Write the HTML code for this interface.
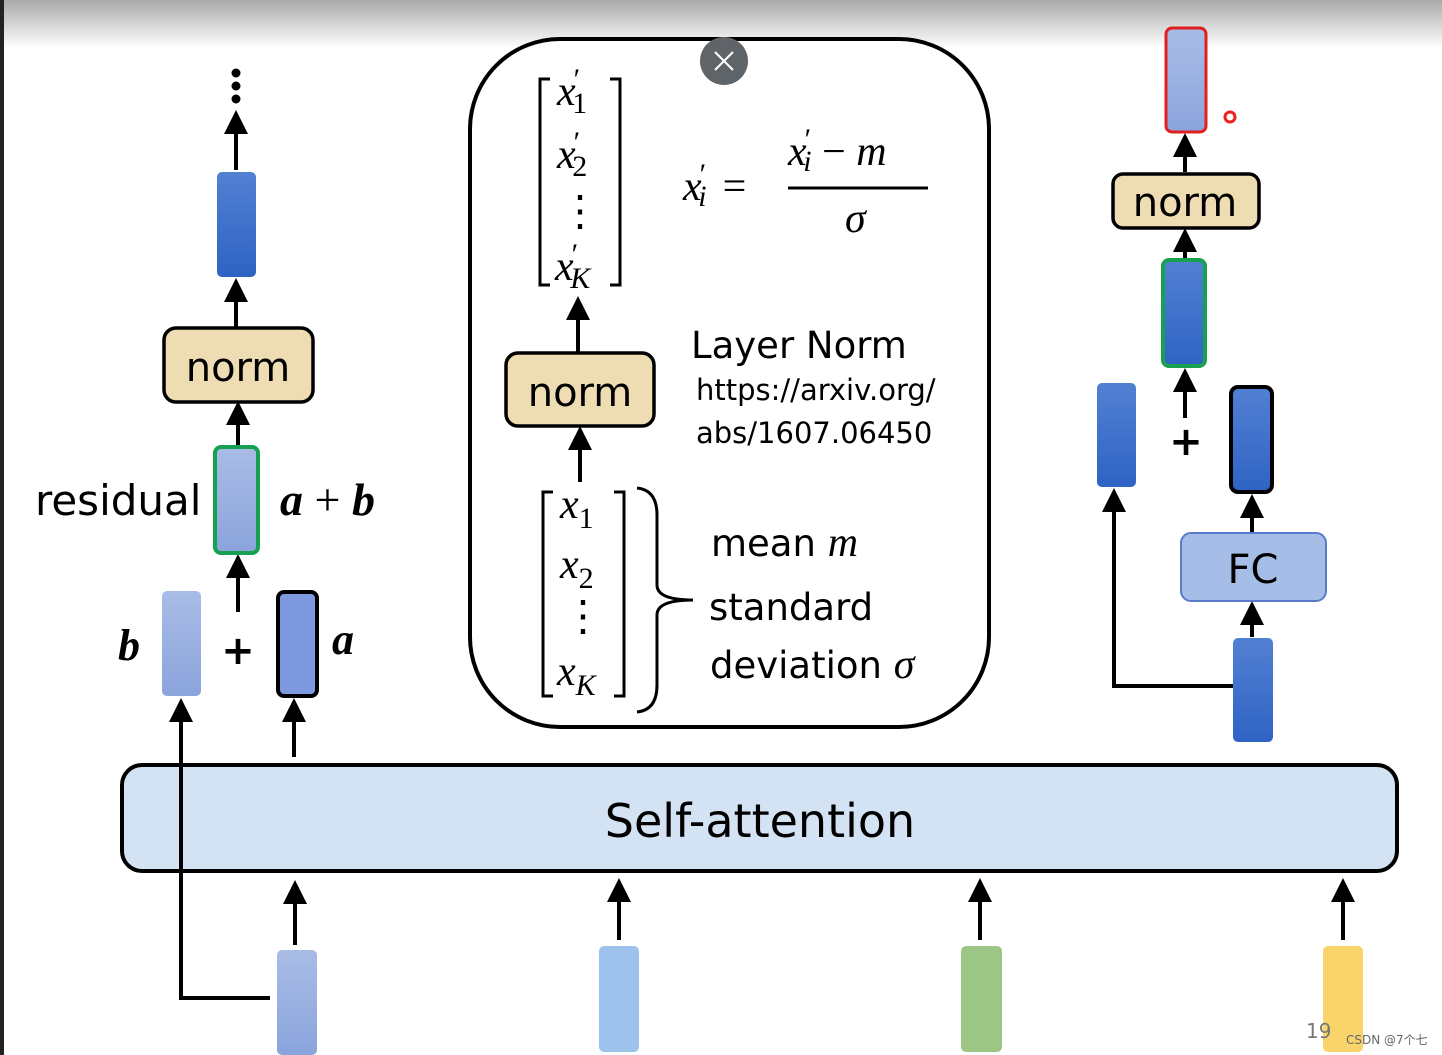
<!DOCTYPE html>
<html><head><meta charset="utf-8"><style>
html,body{margin:0;padding:0;background:#fff;}
svg{display:block;}
.sans{font-family:"DejaVu Sans","Liberation Sans",sans-serif;}
.ser{font-family:"Liberation Serif","DejaVu Serif",serif;font-style:italic;}
</style></head><body>
<svg width="1442" height="1055" viewBox="0 0 1442 1055" xmlns="http://www.w3.org/2000/svg">
<defs>
<linearGradient id="top" x1="0" y1="0" x2="0" y2="1"><stop offset="0" stop-color="#a9a9a9"/><stop offset="1" stop-color="#ffffff"/></linearGradient>
<linearGradient id="blue" x1="0" y1="0" x2="0" y2="1"><stop offset="0" stop-color="#5280d3"/><stop offset="1" stop-color="#2f63c4"/></linearGradient>
<linearGradient id="lblue" x1="0" y1="0" x2="0" y2="1"><stop offset="0" stop-color="#a9bce6"/><stop offset="1" stop-color="#8aa4dc"/></linearGradient>
<marker id="ah" markerWidth="6" markerHeight="6" refX="3" refY="3" orient="auto" markerUnits="strokeWidth"><path d="M0,0 L6,3 L0,6 z" fill="#000"/></marker>
</defs>
<rect x="0" y="0" width="1442" height="48" fill="url(#top)"/>
<rect x="0" y="0" width="4" height="1055" fill="#222"/>

<!-- self attention -->
<rect x="122" y="765" width="1275" height="106" rx="20" fill="#d3e3f4" stroke="#000" stroke-width="4"/>
<text x="760" y="837" text-anchor="middle" class="sans" font-size="46">Self-attention</text>

<!-- center box -->
<rect x="470" y="39" width="519" height="688" rx="90" fill="#fff" stroke="#000" stroke-width="4"/>

<g stroke="#000" stroke-width="4" fill="none" marker-end="url(#ah)">
<line x1="236" y1="170" x2="236" y2="122"/>
<line x1="236" y1="328" x2="236" y2="290"/>
<line x1="238" y1="445" x2="238" y2="413"/>
<line x1="238" y1="612" x2="238" y2="566"/>
<line x1="294" y1="757" x2="294" y2="710"/>
<polyline points="270,998 181,998 181,710"/>
<line x1="295" y1="945" x2="295" y2="892"/>
<line x1="619" y1="940" x2="619" y2="890"/>
<line x1="980" y1="940" x2="980" y2="890"/>
<line x1="1343" y1="940" x2="1343" y2="890"/>
<line x1="578" y1="352" x2="578" y2="308"/>
<line x1="580" y1="482" x2="580" y2="438"/>
<line x1="1185" y1="172" x2="1185" y2="145"/>
<line x1="1185" y1="258" x2="1185" y2="240"/>
<line x1="1185" y1="418" x2="1185" y2="380"/>
<line x1="1252" y1="532" x2="1252" y2="506"/>
<line x1="1252" y1="637" x2="1252" y2="613"/>
<polyline points="1233,686 1114,686 1114,500"/>
</g>

<circle cx="236" cy="73" r="4.5"/><circle cx="236" cy="86" r="4.5"/><circle cx="236" cy="99" r="4.5"/>

<!-- left column -->
<rect x="217" y="172" width="39" height="105" rx="5" fill="url(#blue)"/>
<rect x="164" y="328" width="149" height="74" rx="12" fill="#eedcb2" stroke="#000" stroke-width="3.5"/>
<text x="238" y="381" text-anchor="middle" class="sans" font-size="40">norm</text>
<rect x="215" y="447" width="43" height="106" rx="6" fill="url(#lblue)" stroke="#16a050" stroke-width="4"/>
<text x="35" y="515" class="sans" font-size="42">residual</text>
<text x="280" y="515" class="ser" font-size="46" font-weight="bold">a <tspan font-style="normal" font-weight="normal">+</tspan> b</text>
<rect x="162" y="591" width="39" height="105" rx="5" fill="url(#lblue)"/>
<text x="238" y="664" text-anchor="middle" class="sans" font-size="40" font-weight="bold">+</text>
<rect x="278" y="592" width="39" height="104" rx="6" fill="#7e99df" stroke="#000" stroke-width="4"/>
<text x="118" y="660" class="ser" font-size="44" font-weight="bold">b</text>
<text x="332" y="654" class="ser" font-size="44" font-weight="bold">a</text>

<rect x="277" y="950" width="40" height="105" rx="5" fill="url(#lblue)"/>
<rect x="599" y="946" width="40" height="106" rx="5" fill="#9dc3ec"/>
<rect x="961" y="946" width="41" height="106" rx="5" fill="#9cc685"/>
<rect x="1323" y="946" width="40" height="106" rx="5" fill="#f9d46b"/>
<text x="1306" y="1038" class="sans" font-size="20" fill="#777">19</text>
<text x="1346" y="1044" class="sans" font-size="12" fill="#666">CSDN @7个七</text>

<circle cx="724" cy="61" r="24" fill="#5f6469"/>
<path d="M715,52 L733,70 M733,52 L715,70" stroke="#fff" stroke-width="2"/>
<g stroke="#000" stroke-width="3" fill="none">
<polyline points="550,79 540,79 540,285 550,285"/>
<polyline points="610,79 620,79 620,285 610,285"/>
<polyline points="553,492 543,492 543,696 553,696"/>
<polyline points="614,492 624,492 624,696 614,696"/>
<path d="M637,488 Q657,490 657,515 L657,585 Q657,600 693,600 Q657,600 657,615 L657,685 Q657,710 637,712"/>
<line x1="788" y1="188" x2="928" y2="188"/>
</g>
<g class="ser" font-size="42">
<text x="557" y="105">x<tspan font-size="30" dx="-2" dy="-16" font-style="normal">′</tspan><tspan font-size="30" dx="-8" dy="24" font-style="normal">1</tspan></text>
<text x="557" y="168">x<tspan font-size="30" dx="-2" dy="-16" font-style="normal">′</tspan><tspan font-size="30" dx="-8" dy="24" font-style="normal">2</tspan></text>
<text x="580" y="225" text-anchor="middle" font-style="normal">⋮</text>
<text x="555" y="280">x<tspan font-size="30" dx="-2" dy="-16" font-style="normal">′</tspan><tspan font-size="30" dx="-8" dy="24">K</tspan></text>
<text x="683" y="200">x<tspan font-size="30" dx="-2" dy="-16" font-style="normal">′</tspan><tspan font-size="30" dx="-8" dy="22">i</tspan><tspan dy="-6" dx="16" font-style="normal">=</tspan></text>
<text x="788" y="165">x<tspan font-size="30" dx="-2" dy="-16" font-style="normal">′</tspan><tspan font-size="30" dx="-8" dy="22">i</tspan><tspan dy="-6" font-style="normal"> − </tspan>m</text>
<text x="845" y="232">σ</text>
<text x="560" y="518">x<tspan font-size="30" dy="10" font-style="normal">1</tspan></text>
<text x="560" y="578">x<tspan font-size="30" dy="10" font-style="normal">2</tspan></text>
<text x="583" y="630" text-anchor="middle" font-style="normal">⋮</text>
<text x="557" y="685">x<tspan font-size="30" dy="10">K</tspan></text>
</g>
<rect x="506" y="353" width="148" height="73" rx="12" fill="#eedcb2" stroke="#000" stroke-width="3.5"/>
<text x="580" y="406" text-anchor="middle" class="sans" font-size="40">norm</text>
<text x="691" y="358" class="sans" font-size="37">Layer Norm</text>
<text x="696" y="400" class="sans" font-size="29">https://arxiv.org/</text>
<text x="696" y="443" class="sans" font-size="29">abs/1607.06450</text>
<text x="711" y="556" class="sans" font-size="37">mean <tspan class="ser" font-size="42">m</tspan></text>
<text x="709" y="620" class="sans" font-size="37">standard</text>
<text x="710" y="678" class="sans" font-size="37">deviation <tspan class="ser" font-size="42">σ</tspan></text>

<!-- right -->
<rect x="1166" y="28" width="40" height="104" rx="6" fill="url(#lblue)" stroke="#e02020" stroke-width="3"/>
<circle cx="1230" cy="117" r="5" fill="#fff" stroke="#f02020" stroke-width="3"/>
<rect x="1113" y="174" width="146" height="54" rx="10" fill="#eedcb2" stroke="#000" stroke-width="3.5"/>
<text x="1185" y="216" text-anchor="middle" class="sans" font-size="40">norm</text>
<rect x="1163" y="260" width="42" height="106" rx="6" fill="url(#blue)" stroke="#16a050" stroke-width="4"/>
<text x="1186" y="455" text-anchor="middle" class="sans" font-size="40" font-weight="bold">+</text>
<rect x="1097" y="383" width="39" height="104" rx="5" fill="url(#blue)"/>
<rect x="1231" y="387" width="41" height="105" rx="7" fill="url(#blue)" stroke="#000" stroke-width="4"/>
<rect x="1181" y="533" width="145" height="68" rx="10" fill="#a6bde8" stroke="#5a7cc8" stroke-width="2"/>
<text x="1253" y="583" text-anchor="middle" class="sans" font-size="40">FC</text>
<rect x="1233" y="638" width="40" height="104" rx="5" fill="url(#blue)"/>
</svg>
</body></html>
